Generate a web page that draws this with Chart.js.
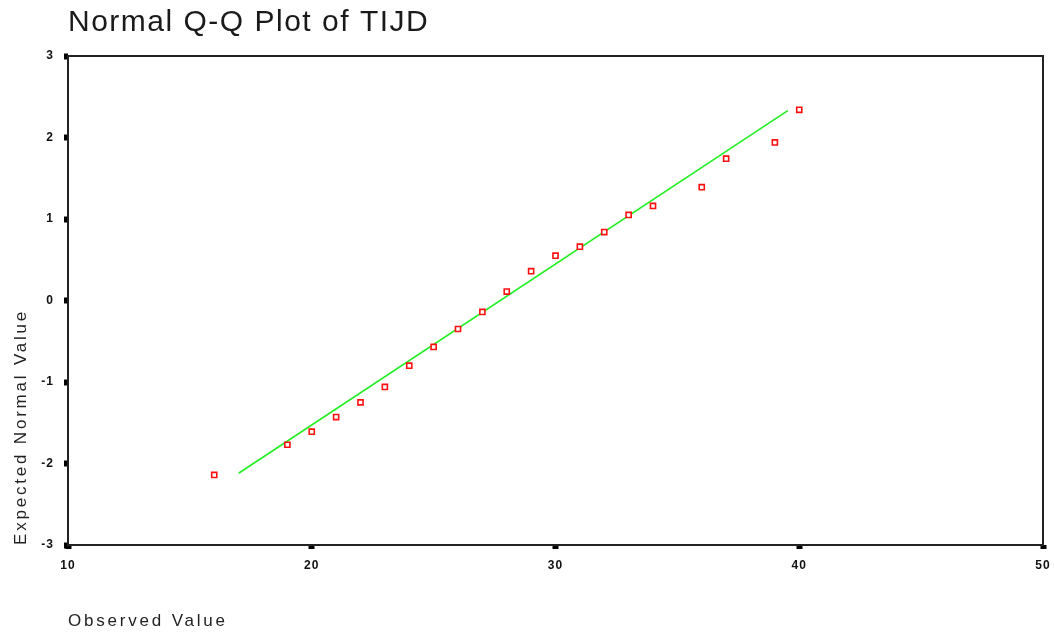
<!DOCTYPE html>
<html>
<head>
<meta charset="utf-8">
<script src="https://cdn.jsdelivr.net/npm/chart.js@4"></script>
<style>
  html, body { margin: 0; padding: 0; background: #fff; }
  #wrap { width: 1054px; height: 636px; }
</style>
</head>
<body>
<div id="wrap"><canvas id="qq"></canvas></div>
<script>
// observed TIJD values and their expected normal scores
const observed = [16, 19, 20, 21, 22, 23, 24, 25, 26, 27, 28, 29, 30, 31, 32, 33, 34, 36, 37, 39, 40];
const expected = [-2.14, -1.77, -1.61, -1.43, -1.25, -1.06, -0.80, -0.57, -0.35, -0.14, 0.11, 0.36, 0.55, 0.66, 0.84, 1.05, 1.16, 1.39, 1.74, 1.94, 2.34];
// reference line end points
const lineX = [17, 39.53];
const lineY = [-2.12, 2.33];
// axis ticks
const xTicks = [10, 20, 30, 40, 50];
const yTicks = [-3, -2, -1, 0, 1, 2, 3];

const FONT = "'Liberation Sans', Arial, sans-serif";

// wrap a draw method so it runs with its own letter spacing
function spaced(obj, name, ls) {
    if (!obj || obj['_sp_' + name]) return;
    const fn = obj[name];
    obj[name] = function () {
        const c = this.ctx;
        const old = c.letterSpacing;
        c.letterSpacing = ls;
        fn.apply(this, arguments);
        c.letterSpacing = old;
    };
    obj['_sp_' + name] = true;
}

// wide spaced text like the old bitmap font
const pixelText = {
    id: 'pixelText',
    beforeDraw(chart) {
        spaced(chart.titleBlock, 'draw', '1.5px');
        Object.values(chart.scales).forEach(s => {
            spaced(s, 'drawTitle', '2.8px');
            spaced(s, 'drawLabels', '1px');
        });
    }
};

// box round the plot area
const frame = {
    id: 'frame',
    beforeDatasetsDraw(chart) {
        const { ctx, chartArea: a } = chart;
        ctx.save();
        ctx.strokeStyle = '#222';
        ctx.lineWidth = 2;
        ctx.strokeRect(a.left, a.top, a.right - a.left, a.bottom - a.top);
        ctx.restore();
    }
};

const ctx = document.getElementById('qq').getContext('2d');
new Chart(ctx, {
    type: 'scatter',
    data: {
        datasets: [
            {
                label: 'TIJD',
                data: observed.map((x, i) => ({ x: x, y: expected[i] })),
                pointStyle: 'rect',
                pointRadius: 3.6,
                pointBorderWidth: 1.6,
                pointBorderColor: '#ff1010',
                pointBackgroundColor: '#ffffff'
            },
            {
                label: 'line',
                type: 'line',
                data: lineX.map((x, i) => ({ x: x, y: lineY[i] })),
                borderColor: '#22ee22',
                borderWidth: 1.6,
                pointRadius: 0,
                fill: false
            }
        ]
    },
    options: {
        responsive: true,
        maintainAspectRatio: false,
        animation: false,
        layout: { padding: { left: 0, right: 11, top: 0, bottom: 0 } },
        scales: {
            x: {
                type: 'linear',
                min: 10,
                max: 50,
                afterBuildTicks: s => { s.ticks = xTicks.map(v => ({ value: v })); },
                afterFit: s => { s.height = 91; s.paddingLeft = 0; s.paddingRight = 0; },
                border: { display: false },
                grid: { drawOnChartArea: false, drawTicks: true, tickLength: 4, tickWidth: 6, tickColor: '#000' },
                ticks: { padding: 9, color: '#111', font: { family: FONT, size: 12, weight: 'bold' }, maxRotation: 0 },
                title: {
                    display: true,
                    text: 'Observed Value',
                    align: 'start',
                    color: '#222',
                    font: { family: FONT, size: 17 },
                    padding: { top: 0, bottom: 4 }
                }
            },
            y: {
                type: 'linear',
                min: -3,
                max: 3,
                afterBuildTicks: s => { s.ticks = yTicks.map(v => ({ value: v })); },
                afterFit: s => { s.width = 68; },
                border: { display: false },
                grid: { drawOnChartArea: false, drawTicks: true, tickLength: 4, tickWidth: 6, tickColor: '#000' },
                ticks: { padding: 10, color: '#111', font: { family: FONT, size: 12, weight: 'bold' } },
                title: {
                    display: true,
                    text: 'Expected Normal Value',
                    align: 'start',
                    color: '#222',
                    font: { family: FONT, size: 17 },
                    padding: { top: 11, bottom: 0 }
                }
            }
        },
        plugins: {
            legend: { display: false },
            tooltip: { enabled: false },
            title: {
                display: true,
                text: 'Normal Q-Q Plot of TIJD',
                align: 'start',
                fullSize: false,
                color: '#1a1a1a',
                font: { family: FONT, size: 30, weight: 'normal' },
                padding: { top: 5, bottom: 15 }
            }
        }
    },
    plugins: [pixelText, frame]
});
</script>
</body>
</html>
